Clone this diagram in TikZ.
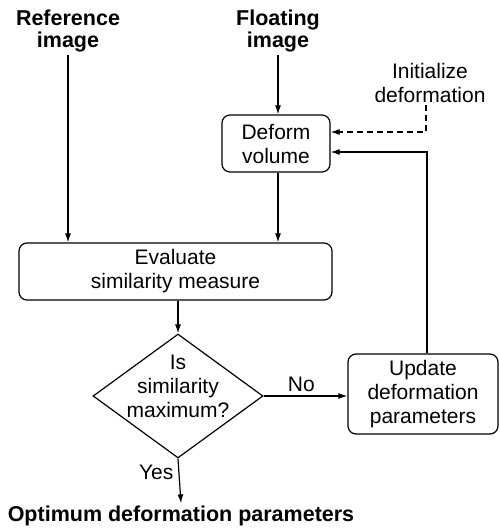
\documentclass[tikz,border=0pt]{standalone}
\usepackage{fontspec}
\setmainfont{Liberation Sans}
\usetikzlibrary{arrows.meta,shapes.geometric}
\begin{document}
\begin{tikzpicture}[x=1pt,y=-1pt,
  font=\fontsize{21}{24}\selectfont,
  line width=1.2pt,
  arr/.style={-{Latex[length=9pt,width=6pt]}},
  box/.style={draw,rounded corners=8pt,align=center,inner sep=0pt},
  lbl/.style={align=center,inner sep=2pt},
  ttl/.style={align=center,font=\fontsize{21.5}{22}\selectfont\bfseries,inner sep=2pt}]
\useasboundingbox (0,0) rectangle (500,528);

% inputs
\node[ttl] (ref) at (68,31) {Reference\\image};
\node[ttl] (flo) at (278,31) {Floating\\image};
\node[lbl] (init) at (430,83) {Initialize\\deformation};

% processing steps
\node[box,minimum width=108,minimum height=57] (deform) at (276,143.5) {Deform\\volume};
\node[box,minimum width=313,minimum height=57] (eval) at (175.5,271.5) {Evaluate\\similarity measure};
\node[draw,diamond,minimum width=170,minimum height=124,inner sep=0pt] (test) at (178,396) {};
\node[lbl] (testtxt) at (178,386) {Is\\similarity\\maximum?};
\node[box,minimum width=150,minimum height=80] (update) at (423,394) {Update\\deformation\\parameters};
\node[ttl] (out) at (181,516) {Optimum deformation parameters};

% connectors
\draw[arr] (ref) -- (ref |- eval.north);
\draw[arr] (flo) -- (flo |- deform.north);
\draw[arr] (flo |- deform.south) -- (flo |- eval.north);
\draw[arr,dash pattern=on 6pt off 4pt] ([xshift=-4pt]init.south) |- ([yshift=11.5pt]deform.east);
\draw[arr] ([xshift=4pt]update.north) |- ([yshift=-8.5pt]deform.east);
\draw[arr] (test.north |- eval.south) -- (test.north);
\draw[arr] (test.east) -- node[above,pos=0.45,inner sep=4pt] {No} (test.east -| update.west);
\draw[arr] (test.south) -- node[left,pos=0.3,inner sep=5pt] {Yes} (out.north);
\end{tikzpicture}
\end{document}
